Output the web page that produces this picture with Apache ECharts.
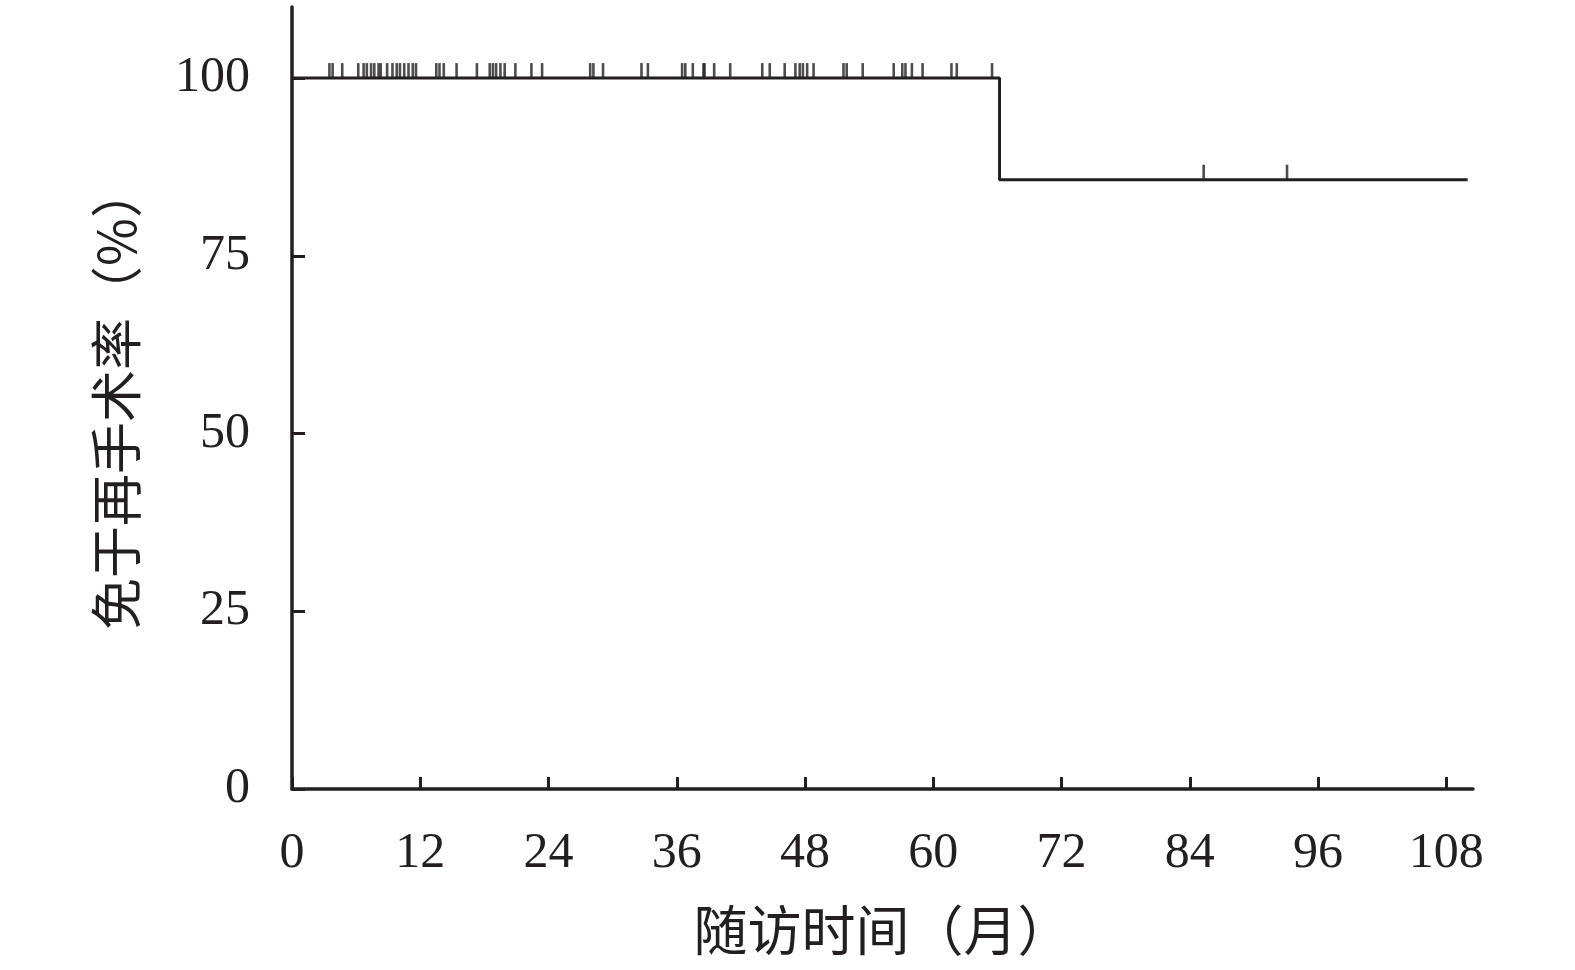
<!DOCTYPE html>
<html>
<head>
<meta charset="utf-8">
<script src="https://cdn.jsdelivr.net/npm/echarts@6/dist/echarts.min.js"></script>
<style>
html,body{margin:0;padding:0;background:#fff;}
#chart{width:1575px;height:970px;}
</style>
</head>
<body>
<div id="chart"></div>
<script>
// Kaplan-Meier step curve (months, %)
const curveTimes = [0, 66.2, 110];
const curveSurv = [100, 85.7, 85.7];
// Censored observations (months)
const censorTimes = [3.5, 3.8, 4.7, 6.2, 6.7, 7.0, 7.4, 7.7, 8.1, 8.3, 8.9, 9.4, 9.8, 10.1, 10.5, 10.9, 11.3, 11.6,
  13.5, 13.8, 14.2, 15.4, 17.3, 18.5, 18.8, 19.1, 19.5, 19.9, 20.9, 22.4, 23.4, 27.9, 28.2, 29.1, 32.7, 33.3,
  36.5, 36.8, 37.5, 38.5, 38.6, 39.5, 41.0, 44.0, 44.7, 46.1, 47.1, 47.5, 47.8, 48.2, 48.8, 51.6, 51.9, 53.4,
  56.3, 57.1, 57.4, 58.0, 59.0, 61.7, 62.2, 65.5, 85.3, 93.1];
const censorSurv = [100,100,100,100,100,100,100,100,100,100,100,100,100,100,100,100,100,100,
  100,100,100,100,100,100,100,100,100,100,100,100,100,100,100,100,100,100,
  100,100,100,100,100,100,100,100,100,100,100,100,100,100,100,100,100,100,
  100,100,100,100,100,100,100,100,85.7,85.7];
const xTicks = [0, 12, 24, 36, 48, 60, 72, 84, 96, 108];
const yTicks = [0, 25, 50, 75, 100];
const xTitle = '随访时间（月）';
const yTitle = '免于再手术率（%）';

const ink = '#231f20';
const chart = echarts.init(document.getElementById('chart'), null, {renderer: 'canvas'});
chart.setOption({
  animation: false,
  backgroundColor: '#fff',
  grid: {left: 292, top: 7, width: 1181, height: 782, containLabel: false},
  xAxis: {
    type: 'value', min: 0, max: 110.5,
    name: xTitle, nameLocation: 'middle', nameGap: 114,
    nameTextStyle: {fontFamily: 'Noto Sans CJK SC', fontSize: 54, color: ink},
    axisLine: {show: true, onZero: false, lineStyle: {color: ink, width: 3.5}},
    axisTick: {show: true, inside: true, length: 12, customValues: xTicks, lineStyle: {color: ink, width: 3}},
    axisLabel: {customValues: xTicks, margin: 40, fontFamily: 'Liberation Serif', fontSize: 50, color: ink},
    splitLine: {show: false}
  },
  yAxis: {
    type: 'value', min: 0, max: 110,
    name: yTitle, nameLocation: 'middle', nameGap: 150, nameRotate: 90,
    nameTextStyle: {fontFamily: 'Noto Sans CJK SC', fontSize: 52, color: ink},
    axisLine: {show: true, onZero: false, lineStyle: {color: ink, width: 3.5}},
    axisTick: {show: true, inside: true, length: 13, customValues: yTicks, lineStyle: {color: ink, width: 3}},
    axisLabel: {customValues: yTicks, margin: 42, fontFamily: 'Liberation Serif', fontSize: 50, color: ink},
    splitLine: {show: false}
  },
  series: [
    {
      type: 'line', step: 'end', showSymbol: false, symbol: 'none',
      data: curveTimes.map((t, i) => [t, curveSurv[i]]),
      lineStyle: {color: ink, width: 3}, z: 3
    },
    {
      type: 'scatter', symbol: 'rect', symbolSize: [2.6, 15], symbolOffset: [0, -7.5],
      data: censorTimes.map((t, i) => [t, censorSurv[i]]),
      itemStyle: {color: ink}, z: 4
    }
  ]
});
</script>
</body>
</html>
